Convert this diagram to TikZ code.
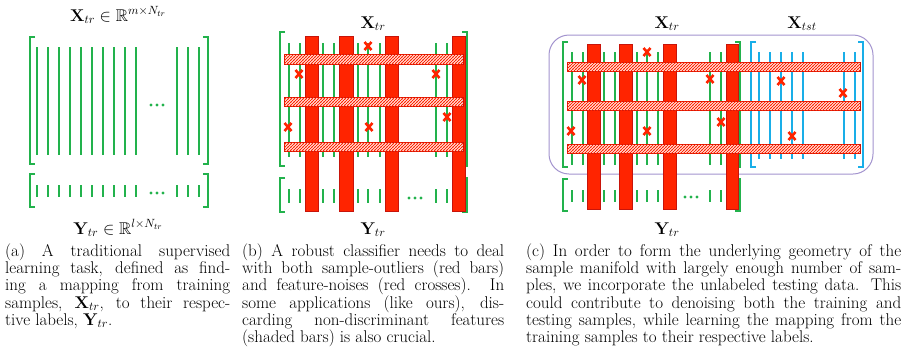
\documentclass[tikz,border=0pt]{standalone}
\usepackage{amsmath,amssymb}
\usepackage{fix-cm}
\usetikzlibrary{patterns}
\definecolor{gr}{RGB}{34,178,76}
\definecolor{bl}{RGB}{25,174,232}
\definecolor{rd}{RGB}{255,36,0}
\definecolor{rdd}{RGB}{200,20,10}
\definecolor{pu}{RGB}{163,148,207}
\pgfdeclarepatternformonly{densehatch}{\pgfqpoint{-1pt}{-1pt}}{\pgfqpoint{4pt}{4pt}}{\pgfqpoint{3pt}{3pt}}{%
  \pgfsetlinewidth{1pt}%
  \pgfpathmoveto{\pgfqpoint{-0.5pt}{-0.5pt}}\pgfpathlineto{\pgfqpoint{3.5pt}{3.5pt}}\pgfusepath{stroke}}
\tikzset{
  gline/.style={draw=gr, line width=1.7pt},
  bline/.style={draw=bl, line width=1.7pt},
  brk/.style={line width=1.8pt},
  redbar/.style={fill=rd, draw=rdd, line width=0.7pt},
  hbar/.style={draw=rdd, line width=0.9pt, fill=white, postaction={pattern=densehatch, pattern color=rd}},
  xmark/.style={draw=rd, line width=2.6pt},
  lab/.style={inner sep=0pt, anchor=base, font=\fontsize{17}{20}\selectfont},
  capt/.style={inner sep=0pt, anchor=base west, font=\fontsize{17}{17}\selectfont},
  frame/.style={draw=pu, line width=1pt, rounded corners=20pt}
}
\newcommand{\brkt}[5]{%
  \draw[brk, draw=#1] (#2+5,#4) -- (#2,#4) -- (#2,#5) -- (#2+5,#5);
  \draw[brk, draw=#1] (#3-5,#4) -- (#3,#4) -- (#3,#5) -- (#3-5,#5);}
\newcommand{\xcr}[2]{\draw[xmark] (#1-3.5,#2-4) -- (#1+3.5,#2+4) (#1-3.5,#2+4) -- (#1+3.5,#2-4);}
\newcommand{\gdots}[2]{\fill[gr] (#1-6,#2) circle (1.7pt) (#1,#2) circle (1.7pt) (#1+6,#2) circle (1.7pt);}
\newcommand{\jl}[5]{\node[capt] (#1) at (#2,#3) {\makebox[#4pt][s]{#5}};}
\begin{document}
\begin{tikzpicture}[x=1pt,y=-1pt]
\fill[white] (0,0) rectangle (906,354);
\useasboundingbox (0,0) rectangle (906,354);

% ---------------- (a)
\node[lab] (ta) at (118,21) {$\mathbf{X}_{tr}\in\mathbb{R}^{m\times N_{tr}}$};
\foreach \x in {37.3,48.3,59.3,70,81,92,103,114,125,136,177,188,199}{
  \draw[gline] (\x,47) -- (\x,155);
  \draw[gline] (\x,185) -- (\x,197);
}
\brkt{gr}{30}{208}{37}{164}
\gdots{157}{105}
\brkt{gr}{30}{208}{174}{207}
\gdots{157}{193}
\node[lab] (ya) at (118,234) {$\mathbf{Y}_{tr}\in\mathbb{R}^{l\times N_{tr}}$};

% ---------------- (b)
\node[lab] (tb) at (373,28) {$\mathbf{X}_{tr}$};
\foreach \x in {289,300,323,334,358,368,380,436,447}{
  \draw[gline] (\x,43) -- (\x,157);
  \draw[gline] (\x,189) -- (\x,203);
}
\brkt{gr}{280}{467}{32}{166}
\brkt{gr}{280}{467}{178}{212}
\gdots{415}{198}
\foreach \a/\b in {305/318,339/353,385/398,452/465}{
  \draw[redbar] (\a,36) rectangle (\b,211);
}
\foreach \a/\b in {54/64,97/106,142/151}{
  \draw[hbar] (284,\a) rectangle (463,\b);
}
\xcr{368}{46}\xcr{299}{74}\xcr{436}{74}\xcr{447}{117}\xcr{288}{127}\xcr{369}{127}
\node[lab] (yb) at (373,234) {$\mathbf{Y}_{tr}$};

% ---------------- (c)
\node[lab] (tc) at (667,28) {$\mathbf{X}_{tr}$};
\node[lab] (tt) at (802,28) {$\mathbf{X}_{tst}$};
\draw[frame] (549,35) rectangle (873,174);
\foreach \x in {572,583,604,615,637,647,658,710,721}{
  \draw[gline] (\x,52) -- (\x,165);
  \draw[gline] (\x,190) -- (\x,202);
}
\foreach \x in {759,770,781,792,803,844,855}{
  \draw[bline] (\x,52) -- (\x,159);
}
\brkt{gr}{563}{740}{42}{167}
\brkt{bl}{751}{863}{42}{167}
\brkt{gr}{563}{740}{179}{211}
\gdots{691}{197}
\foreach \a/\b in {587/600,619/632,663/676,726/738}{
  \draw[redbar] (\a,44) rectangle (\b,209);
}
\foreach \a/\b in {62/71,101/110,144/153}{
  \draw[hbar] (567,\a) rectangle (860,\b);
}
\xcr{647}{52}\xcr{582}{80}\xcr{710}{79}\xcr{781}{81}\xcr{843}{93}
\xcr{721}{122}\xcr{571}{131}\xcr{647}{131}\xcr{792}{136}
\node[lab] (yc) at (667,234) {$\mathbf{Y}_{tr}$};

% ---------------- captions
\jl{a1}{5}{256.5}{225}{(a) A traditional supervised}
\jl{a2}{5}{273.7}{225}{learning task, defined as find-}
\jl{a3}{5}{290.9}{225}{ing a mapping from training}
\jl{a4}{5}{308}{225}{samples, $\mathbf{X}_{tr}$, to their respec-}
\node[capt] (a5) at (5,325.3) {tive labels, $\mathbf{Y}_{tr}$.};

\jl{b1}{242}{256.5}{262}{(b) A robust classifier needs to deal}
\jl{b2}{242}{273.7}{262}{with both sample-outliers (red bars)}
\jl{b3}{242}{290.9}{262}{and feature-noises (red crosses). In}
\jl{b4}{242}{308}{262}{some applications (like ours), dis-}
\jl{b5}{242}{325.3}{262}{carding non-discriminant features}
\node[capt] (b6) at (242,342.5) {(shaded bars) is also crucial.};

\jl{c1}{526}{256.5}{375}{(c) In order to form the underlying geometry of the}
\jl{c2}{526}{273.7}{375}{sample manifold with largely enough number of sam-}
\jl{c3}{526}{290.9}{375}{ples, we incorporate the unlabeled testing data. This}
\jl{c4}{526}{308}{375}{could contribute to denoising both the training and}
\jl{c5}{526}{325.3}{375}{testing samples, while learning the mapping from the}
\node[capt] (c6) at (526,342.5) {training samples to their respective labels.};
\end{tikzpicture}
\end{document}
